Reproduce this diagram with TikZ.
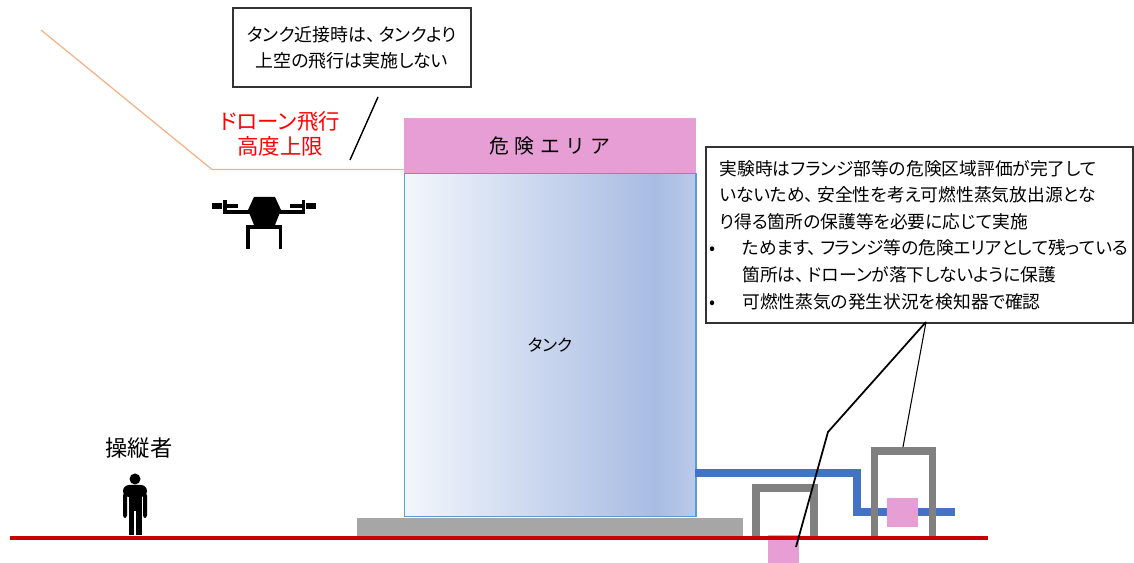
\documentclass[tikz,border=0pt]{standalone}
\usepackage{fontspec}
\newfontfamily\jp[RawFeature=+palt]{Noto Sans CJK JP}
\newfontfamily\jpf{Noto Sans CJK JP}
\usetikzlibrary{positioning}

\newcommand\jcomma{、\kern0.2em}

\definecolor{dangerpink}{HTML}{E69ED4}
\definecolor{tankline}{HTML}{5B9BD5}
\definecolor{tankL}{HTML}{F3F6FC}
\definecolor{tankR}{HTML}{A8BCE3}
\definecolor{tankE}{HTML}{BACAEA}
\definecolor{pipeblue}{HTML}{4472C4}
\definecolor{framegray}{HTML}{808080}
\definecolor{basegray}{HTML}{A6A6A6}
\definecolor{groundred}{HTML}{C80000}
\definecolor{limitorange}{HTML}{F4B183}

\pgfdeclarehorizontalshading{tankshade}{100bp}{color(0bp)=(tankL); color(25bp)=(tankL); color(68bp)=(tankR); color(75bp)=(tankE); color(100bp)=(tankE)}

\tikzset{
	notebox/.style={draw=black!80, line width=1pt, fill=white, inner sep=0pt},
	pinkbox/.style={fill=dangerpink, inner sep=0pt},
	frame/.style={draw=framegray, line width=4.5pt},
	pipe/.style={draw=pipeblue, line width=4pt},
	pointer/.style={draw=black, line width=0.8pt}
}

\begin{document}
\begin{tikzpicture}[x=0.02cm, y=-0.02cm]
	\useasboundingbox (0,0) rectangle (1134,563);

	\coordinate (lim1) at (41,30);
	\coordinate (lim2) at (212,169.5);
	\coordinate (lim3) at (404,169.5);
	\draw[limitorange, line width=0.7pt] (lim1) -- (lim2) -- (lim3);

	\node[pinkbox, minimum width=5.84cm, minimum height=1.1cm, font=\jpf\fontsize{11.3}{14}\selectfont\addfontfeature{LetterSpace=27}] (danger) at (550,145.5) {危険エリア};
	\node[shade, shading=tankshade, draw=tankline, line width=0.6pt, minimum width=5.84cm, minimum height=6.86cm, inner sep=0pt, font=\jp\fontsize{9.5}{11}\selectfont] (tank)[below=0pt of danger] {タンク};
	\node[fill=basegray, minimum width=7.72cm, minimum height=0.42cm, inner sep=0pt] (base)[below=0pt of tank] {};

	\draw[pipe] (695,473) -- (857,473) -- (857,512) -- (955,512);

	\node[pinkbox, minimum width=0.62cm, minimum height=0.56cm] (sq1) at (783.5,549) {};
	\node[pinkbox, minimum width=0.62cm, minimum height=0.58cm] (sq2) at (902.5,512.5) {};

	\draw[groundred, line width=2.8pt] (10,538) -- (988,538);

	\draw[frame] (756,536) |- (814,488) -- (814,536);
	\draw[frame] (874.5,536) |- (932.5,451) -- (932.5,536);

	% drone
	\fill (254,197) -- (275,197) -- (281,210) -- (275,225) -- (254,225) -- (248,210) -- cycle;
	\fill (223,210) rectangle (250,214);
	\fill (223,200) rectangle (226.5,214);
	\fill (212,203) rectangle (222,209);
	\fill (226,204) rectangle (238,208);
	\fill (279,210) rectangle (305,214);
	\fill (301.5,200) rectangle (305,214);
	\fill (306,203) rectangle (316,209);
	\fill (290,204) rectangle (302,208);
	\fill (246,225) rectangle (282,229);
	\fill (246,225) rectangle (249.5,249);
	\fill (278.5,225) rectangle (282,249);

	% operator
	\fill (135,479) circle (5.5);
	\fill[rounded corners=3.5] (123,497) -- (123,485) -- (147,485) -- (147,497) -- cycle;
	\fill[rounded corners=1.5] (123,493) rectangle (127,518);
	\fill[rounded corners=1.5] (143,493) rectangle (147,518);
	\fill (128.5,490) rectangle (141.5,511);
	\fill (128.5,505) rectangle (134.4,535);
	\fill (135.6,505) rectangle (141.5,535);
	\node[font=\jp\fontsize{12.7}{15}\selectfont] (pilot) at (139,448) {操縦者};

	\node[text=red, align=center, font=\jp\fontsize{12.2}{14.2}\selectfont] (limit) at (280,134) {ドローン飛行\\高度上限};

	\node[notebox, minimum width=4.76cm, minimum height=1.58cm, align=center, font=\jp\fontsize{10.2}{14.7}\selectfont] (rule) at (352,47.5) {タンク近接時は\jcomma タンクより\\上空の飛行は実施しない};
	\coordinate (rule1) at (378,97);
	\coordinate (rule2) at (350,160);
	\draw[pointer] (rule1) -- (rule2);

	\node[notebox, minimum width=8.54cm, minimum height=3.52cm] (test) at (919.5,235) {};
	\node[anchor=west, align=left, inner sep=0pt, font=\jp\fontsize{10.1}{15.1}\selectfont] (testtext) at ([xshift=0.08cm]test.west) {%
		\hspace*{5.7pt}実験時はフランジ部等の危険区域評価が完了して\\
		\hspace*{5.7pt}いないため\jcomma 安全性を考え可燃性蒸気放出源とな\\
		\hspace*{5.7pt}り得る箇所の保護等を必要に応じて実施\\
		\makebox[18.7pt][l]{•}ためます\jcomma フランジ等の危険エリアとして残っている\\
		\hspace*{18.7pt}箇所は\jcomma ドローンが落下しないように保護\\
		\makebox[18.7pt][l]{•}可燃性蒸気の発生状況を検知器で確認};
	\coordinate (tip) at (926,322);
	\coordinate (bend) at (828,432);
	\coordinate (hit) at (796,547);
	\coordinate (top2) at (903,447);
	\draw[pointer, line width=1pt] (tip) -- (bend) -- (hit);
	\draw[pointer, line width=0.6pt] (tip) -- (top2);
\end{tikzpicture}
\end{document}
